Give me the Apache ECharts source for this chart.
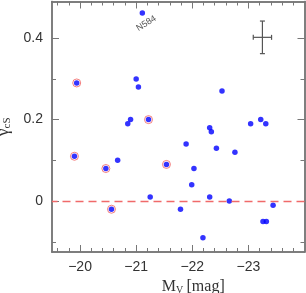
<!DOCTYPE html>
<html><head><meta charset="utf-8">
<script src="https://cdn.jsdelivr.net/npm/echarts@6/dist/echarts.min.js"></script>
<style>html,body{margin:0;padding:0;background:#fff}#c{width:306px;height:293px}</style>
</head><body><div id="c"></div>
<script>
// data
var plainPoints = [[-21.00,0.30],[-21.04,0.28],[-22.53,0.27],[-20.90,0.20],[-20.85,0.19],[-23.22,0.20],[-23.04,0.19],[-23.31,0.19],[-22.31,0.18],[-22.34,0.17],[-21.89,0.14],[-22.43,0.13],[-22.76,0.12],[-20.67,0.10],[-22.03,0.08],[-21.99,0.04],[-21.25,0.01],[-22.31,0.01],[-22.66,0.00],[-23.44,-0.01],[-21.79,-0.02],[-23.26,-0.05],[-23.32,-0.05],[-22.19,-0.09]];
var circledPoints = [[-19.94,0.29],[-21.22,0.20],[-19.90,0.11],[-21.54,0.09],[-20.46,0.08],[-20.56,-0.02]];
var labelledPoint = [[-21.11,0.462,'N584']];
var errorBar = [[-23.25,0.402,0.163,0.04]];
var zeroLine = [0];
var xMajorTicks = [-23,-22,-21,-20];
var xMinorTicks = [-23.8,-23.6,-23.4,-23.2,-22.8,-22.6,-22.4,-22.2,-21.8,-21.6,-21.4,-21.2,-20.8,-20.6,-20.4,-20.2,-19.8,-19.6];
var yMajorTicks = [0,0.2,0.4];
var yMinorTicks = [-0.1,0.1,0.3];

var AX = '#777', FONT = 'Liberation Sans';
function xAxisDef(pos, ticks, len, labels){
  return {type:'value', position:pos, min:-24, max:-19.5, inverse:true,
    axisLine:{show:true, onZero:false, lineStyle:{color:AX, width:1.5}},
    axisTick:{show:true, inside:true, length:len, customValues:ticks, lineStyle:{color:AX, width:1}},
    axisLabel:{show:labels, customValues:ticks, margin:8, color:'#333', fontFamily:FONT, fontSize:14,
      formatter:function(v){return String(v).replace('-', '\u2212');}},
    splitLine:{show:false}};
}
function yAxisDef(pos, ticks, len, labels){
  return {type:'value', position:pos, min:-0.125, max:0.49,
    axisLine:{show:true, onZero:false, lineStyle:{color:AX, width:1.5}},
    axisTick:{show:true, inside:true, length:len, customValues:ticks, lineStyle:{color:AX, width:1}},
    axisLabel:{show:labels, customValues:ticks, margin:9, color:'#333', fontFamily:FONT, fontSize:14,
      formatter:function(v){return v===0?'0':String(v);}},
    splitLine:{show:false}};
}
var xa0 = xAxisDef('bottom', xMajorTicks, 7, true);
xa0.name = '{m|M}{s|V} {m|[mag]}';
xa0.nameLocation = 'middle';
xa0.nameGap = 25;
xa0.nameTextStyle = {padding:[0,0,0,30], rich:{m:{fontFamily:'Liberation Serif', fontSize:16, color:'#333'}, s:{fontFamily:'Liberation Serif', fontSize:10, color:'#333', padding:[7,0,0,0]}}};
var ya0 = yAxisDef('left', yMajorTicks, 7, true);
ya0.name = '{g|\u03b3}{s|cS}';
ya0.nameLocation = 'middle';
ya0.nameGap = 34;
ya0.nameTextStyle = {rich:{g:{fontFamily:'Liberation Serif', fontSize:17, color:'#333'}, s:{fontFamily:'Liberation Serif', fontSize:11, color:'#333', padding:[8,0,0,0]}}};

var chart = echarts.init(document.getElementById('c'), null, {renderer:'canvas'});
chart.setOption({
  animation:false,
  grid:{left:52, right:1.5, top:1.5, bottom:41, containLabel:false, outerBoundsMode:'none'},
  xAxis:[xa0, xAxisDef('bottom', xMinorTicks, 4, false), xAxisDef('top', xMajorTicks, 7, false), xAxisDef('top', xMinorTicks, 4, false)],
  yAxis:[ya0, yAxisDef('left', yMinorTicks, 4, false), yAxisDef('right', yMajorTicks, 7, false), yAxisDef('right', yMinorTicks, 4, false)],
  series:[
    {type:'scatter', data:[], silent:true, color:'#f06a6a',
     markLine:{silent:true, symbol:'none', label:{show:false}, emphasis:{disabled:true},
       lineStyle:{color:'#f06a6a', width:1.3, type:[8,5], opacity:1},
       data:zeroLine.map(function(v){return {yAxis:v, lineStyle:{color:'#f06a6a'}};})}},
    {type:'scatter', data:circledPoints, symbol:'circle', symbolSize:8,
     itemStyle:{color:'rgba(255,255,255,0)', borderColor:'#f06060', borderWidth:1}},
    {type:'scatter', data:plainPoints.concat(circledPoints), symbol:'circle', symbolSize:5.5,
     itemStyle:{color:'#0000ff'}},
    {type:'scatter', data:labelledPoint, symbol:'circle', symbolSize:5.5, itemStyle:{color:'#0000ff'},
     label:{show:true, formatter:function(p){return p.data[2];}, rotate:32, position:'bottom', offset:[2,0],
       fontFamily:FONT, fontSize:9, color:'#222'}},
    {type:'custom', data:errorBar, silent:true,
     renderItem:function(params, api){
       var x=api.value(0), y=api.value(1), ex=api.value(2), ey=api.value(3);
       var l=api.coord([x-ex,y]), r=api.coord([x+ex,y]), t=api.coord([x,y+ey]), b=api.coord([x,y-ey]);
       var st={stroke:'#555', lineWidth:1.2}, c=2.5;
       return {type:'group', children:[
         {type:'line', shape:{x1:l[0],y1:l[1],x2:r[0],y2:r[1]}, style:st},
         {type:'line', shape:{x1:t[0],y1:t[1],x2:b[0],y2:b[1]}, style:st},
         {type:'line', shape:{x1:l[0],y1:l[1]-c,x2:l[0],y2:l[1]+c}, style:st},
         {type:'line', shape:{x1:r[0],y1:r[1]-c,x2:r[0],y2:r[1]+c}, style:st},
         {type:'line', shape:{x1:t[0]-c,y1:t[1],x2:t[0]+c,y2:t[1]}, style:st},
         {type:'line', shape:{x1:b[0]-c,y1:b[1],x2:b[0]+c,y2:b[1]}, style:st}
       ]};
     }}
  ]
});
</script></body></html>
